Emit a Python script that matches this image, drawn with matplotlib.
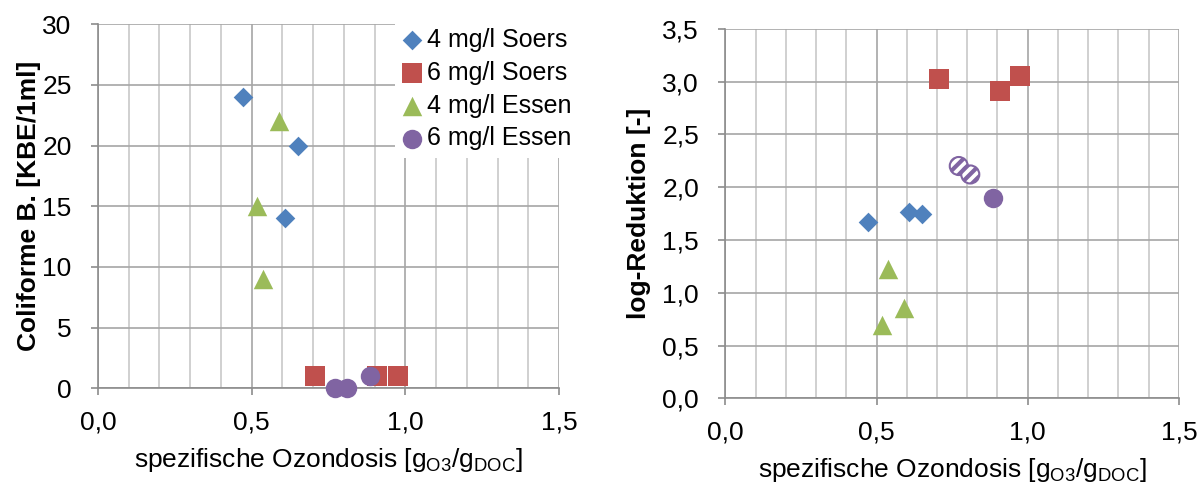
import matplotlib.pyplot as plt
from matplotlib.ticker import MultipleLocator, FuncFormatter

plt.rcParams['font.family'] = ['Liberation Sans', 'DejaVu Sans']
plt.rcParams['mathtext.fontset'] = 'custom'
plt.rcParams['mathtext.rm'] = 'Liberation Sans'
plt.rcParams['mathtext.it'] = 'Liberation Sans'
plt.rcParams['hatch.linewidth'] = 3

# data
soers4_x = [0.471, 0.607, 0.650]
soers4_kbe = [24, 14, 20]
soers4_log = [1.667, 1.767, 1.745]

soers6_x = [0.707, 0.909, 0.975]
soers6_kbe = [1, 1, 1]
soers6_log = [3.02, 2.907, 3.055]

essen4_x = [0.590, 0.517, 0.537]
essen4_kbe = [22, 15, 9]
essen4_log = [0.852, 0.694, 1.224]

essen6_x = [0.772, 0.810, 0.885]
essen6_kbe = [0, 0, 1]
essen6_log = [2.20, 2.12, 1.894]
essen6_hatched = [True, True, False]

labels = ['4 mg/l Soers', '6 mg/l Soers', '4 mg/l Essen', '6 mg/l Essen']
colors = ['#4F81BD', '#C0504D', '#9BBB59', '#8064A2']
markers = ['D', 's', '^', 'o']
sizes = [10, 14, 14, 14]

xlabel = r'spezifische Ozondosis [g$_{\mathrm{O3}}$/g$_{\mathrm{DOC}}$]'
FS = 19

fig = plt.figure(figsize=(12.04, 4.84), dpi=100)
ax1 = fig.add_axes([0.0814, 0.198, 0.383, 0.752])
ax2 = fig.add_axes([0.6024, 0.177, 0.3768, 0.7636])


def style_axis(ax, ymax, ystep, yfmt):
    ax.set_xlim(0, 1.5)
    ax.set_ylim(0, ymax)
    ax.xaxis.set_major_locator(MultipleLocator(0.5))
    ax.xaxis.set_minor_locator(MultipleLocator(0.1))
    ax.yaxis.set_major_locator(MultipleLocator(ystep))
    ax.xaxis.set_major_formatter(FuncFormatter(lambda v, p: f'{v:.1f}'.replace('.', ',')))
    ax.yaxis.set_major_formatter(FuncFormatter(yfmt))
    ax.grid(True, which='major', color='#A6A6A6', linewidth=1.2)
    ax.grid(True, which='minor', axis='x', color='#C8C8C8', linewidth=1.2)
    ax.set_axisbelow(True)
    for s in ['top', 'right']:
        ax.spines[s].set_visible(False)
    for s in ['left', 'bottom']:
        ax.spines[s].set_color('#8C8C8C')
        ax.spines[s].set_linewidth(1.2)
    ax.tick_params(which='major', direction='out', length=5, width=1.2, color='#8C8C8C',
                   labelsize=FS)
    ax.tick_params(axis='x', which='major', pad=11)
    ax.tick_params(axis='y', which='major', pad=14)
    ax.tick_params(which='minor', length=0)
    ax.set_xlabel(xlabel, fontsize=FS, labelpad=8)


style_axis(ax1, 30, 5, lambda v, p: f'{v:.0f}')
style_axis(ax2, 3.5, 0.5, lambda v, p: f'{v:.1f}'.replace('.', ','))

ax1.set_ylabel('Coliforme B. [KBE/1ml]', fontsize=FS, fontweight='bold', labelpad=1)
ax2.set_ylabel('log-Reduktion [-]', fontsize=FS, fontweight='bold', labelpad=8)

left_series = [(soers4_x, soers4_kbe), (soers6_x, soers6_kbe),
               (essen4_x, essen4_kbe), (essen6_x, essen6_kbe)]
for (xs, ys), lab, c, m, ms in zip(left_series, labels, colors, markers, sizes):
    ax1.scatter(xs, ys, s=ms ** 2, marker=m, color=c, linewidths=0,
                label=lab, clip_on=False, zorder=3)

right_series = [(soers4_x, soers4_log), (soers6_x, soers6_log), (essen4_x, essen4_log)]
for (xs, ys), c, m, ms in zip(right_series, colors[:3], markers[:3], sizes[:3]):
    ax2.scatter(xs, ys, s=ms ** 2, marker=m, color=c, linewidths=0, zorder=3)

hx = [x for x, h in zip(essen6_x, essen6_hatched) if h]
hy = [y for y, h in zip(essen6_log, essen6_hatched) if h]
sx = [x for x, h in zip(essen6_x, essen6_hatched) if not h]
sy = [y for y, h in zip(essen6_log, essen6_hatched) if not h]
ax2.scatter(hx, hy, s=13 ** 2, marker='o', facecolors='white', edgecolors=colors[3],
            hatch='///', linewidths=1.5, zorder=3)
ax2.scatter(sx, sy, s=sizes[3] ** 2, marker='o', color=colors[3], linewidths=0, zorder=3)

leg = ax1.legend(loc='upper left', bbox_to_anchor=(0.645, 1.01), fontsize=18,
                 frameon=True, framealpha=1, facecolor='white', edgecolor='none',
                 fancybox=False, handlelength=0.7, handletextpad=0.25,
                 labelspacing=0.35, borderpad=0.3, borderaxespad=0)
leg.set_zorder(5)

fig.savefig('out.png', dpi=100)
